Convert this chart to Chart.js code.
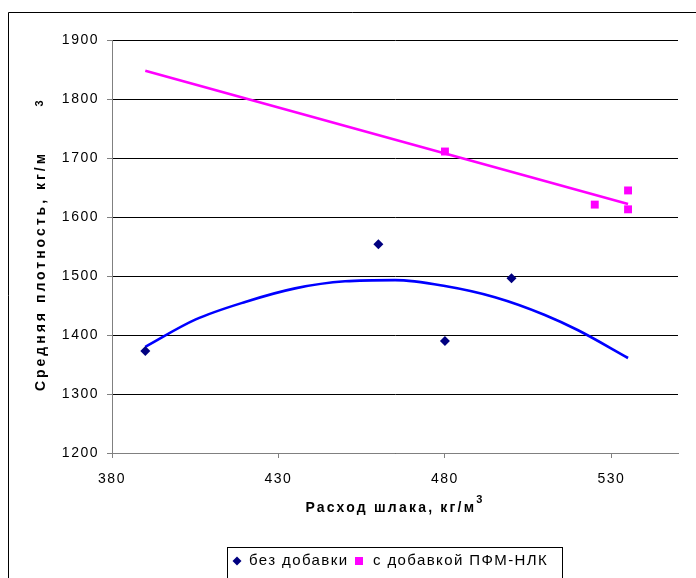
<!DOCTYPE html>
<html>
<head>
<meta charset="utf-8">
<script src="https://cdn.jsdelivr.net/npm/chart.js@4.4.0/dist/chart.umd.min.js"></script>
<style>
  html, body { margin: 0; padding: 0; background: #fff; }
  #wrap { width: 696px; height: 578px; }
</style>
</head>
<body>
<div id="wrap"><canvas id="c" width="696" height="578"></canvas></div>
<script>
// Axis ranges and tick labels
const xTicks = [380, 430, 480, 530];
const xMin = 380, xMax = 550;
const yMin = 1200, yMax = 1900, yStep = 100;

// Series
const seriesNames = ['без добавки', 'с добавкой ПФМ-НЛК'];
const plainX = [390, 460, 480, 500];
const plainY = [1373, 1554, 1390, 1496];
const additiveX = [480, 525, 535, 535];
const additiveY = [1711, 1621, 1645, 1613];

// Trend lines (polynomial for the plain mix, linear for the additive mix)
const plainTrendX = [390, 405, 420, 435, 450, 465, 480, 495, 510, 520, 535];
const plainTrendY = [1380, 1426, 1456, 1479, 1491, 1493, 1483, 1464, 1434, 1408, 1361];
const additiveTrendX = [390, 535];
const additiveTrendY = [1848, 1622];

// Axis titles
const xTitle = 'Расход шлака, кг/м';
const yTitle = 'Средняя плотность, кг/м';
const unitPower = '3';

const NAVY = '#000080', BLUE = '#0000FF', MAGENTA = '#FF00FF';
const FONT = '"Liberation Sans", Arial, sans-serif';

const pts = (xs, ys) => xs.map((x, i) => ({ x: x, y: ys[i] }));

// White page, frame lines on the left and top
const framePlugin = {
  id: 'frame',
  beforeDraw(chart) {
    const ctx = chart.ctx;
    ctx.save();
    ctx.fillStyle = '#fff';
    ctx.fillRect(0, 0, chart.width, chart.height);
    ctx.strokeStyle = '#000';
    ctx.lineWidth = 1;
    ctx.beginPath();
    ctx.moveTo(8.5, chart.height + 2);
    ctx.lineTo(8.5, 12.5);
    ctx.lineTo(chart.width + 2, 12.5);
    ctx.stroke();
    ctx.restore();
    ctx.letterSpacing = '1.5px';
  }
};

// Axis titles with superscript unit power
const titlesPlugin = {
  id: 'titles',
  afterDraw(chart) {
    const ctx = chart.ctx;
    const area = chart.chartArea;
    ctx.save();
    ctx.fillStyle = '#000';
    ctx.textBaseline = 'alphabetic';

    // x title
    ctx.letterSpacing = '2.2px';
    ctx.font = 'bold 14px ' + FONT;
    const wx = ctx.measureText(xTitle).width;
    ctx.font = 'bold 11px ' + FONT;
    const wp = ctx.measureText(unitPower).width;
    const x0 = (area.left + area.right) / 2 - (wx + wp) / 2;
    ctx.font = 'bold 14px ' + FONT;
    ctx.textAlign = 'left';
    ctx.fillText(xTitle, x0, 512);
    ctx.font = 'bold 11px ' + FONT;
    ctx.fillText(unitPower, x0 + wx, 503);

    // y title (rotated)
    ctx.letterSpacing = '3px';
    ctx.translate(45, 271);
    ctx.rotate(-Math.PI / 2);
    ctx.font = 'bold 14px ' + FONT;
    ctx.textAlign = 'center';
    ctx.fillText(yTitle, 0, 0);
    ctx.font = 'bold 11px ' + FONT;
    ctx.fillText(unitPower, 169, -2);
    ctx.restore();
  }
};

// Boxed legend under the plot
const legendPlugin = {
  id: 'boxLegend',
  afterDraw(chart) {
    const ctx = chart.ctx;
    ctx.save();
    ctx.strokeStyle = '#000';
    ctx.lineWidth = 1;
    ctx.strokeRect(227.5, 547.5, 335, 40);
    const cy = 561;
    // diamond marker
    ctx.fillStyle = NAVY;
    ctx.beginPath();
    ctx.moveTo(237, cy - 4.5);
    ctx.lineTo(241.5, cy);
    ctx.lineTo(237, cy + 4.5);
    ctx.lineTo(232.5, cy);
    ctx.closePath();
    ctx.fill();
    // square marker
    ctx.fillStyle = MAGENTA;
    ctx.fillRect(355, cy - 4, 8, 8);

    ctx.fillStyle = '#000';
    ctx.font = '15px ' + FONT;
    ctx.letterSpacing = '1.4px';
    ctx.textAlign = 'left';
    ctx.textBaseline = 'middle';
    ctx.fillText(seriesNames[0], 249, cy);
    ctx.fillText(seriesNames[1], 373, cy);
    ctx.restore();
  }
};

new Chart(document.getElementById('c'), {
  type: 'scatter',
  data: {
    datasets: [
      {
        label: seriesNames[0],
        data: pts(plainX, plainY),
        pointStyle: 'rectRot',
        pointRadius: 5,
        pointHoverRadius: 5,
        backgroundColor: NAVY,
        borderColor: NAVY,
        borderWidth: 0,
        order: 0
      },
      {
        label: seriesNames[1],
        data: pts(additiveX, additiveY),
        pointStyle: 'rect',
        pointRadius: 5.6,
        pointHoverRadius: 5.6,
        backgroundColor: MAGENTA,
        borderColor: MAGENTA,
        borderWidth: 0,
        order: 1
      },
      {
        label: 'trend1',
        data: pts(plainTrendX, plainTrendY),
        showLine: true,
        pointRadius: 0,
        borderColor: BLUE,
        borderWidth: 2.6,
        tension: 0.4,
        cubicInterpolationMode: 'monotone',
        order: 2
      },
      {
        label: 'trend2',
        data: pts(additiveTrendX, additiveTrendY),
        showLine: true,
        pointRadius: 0,
        borderColor: MAGENTA,
        borderWidth: 2.6,
        order: 3
      }
    ]
  },
  options: {
    responsive: false,
    animation: false,
    devicePixelRatio: 1,
    layout: { padding: { left: 0, top: 40, right: 18, bottom: 58 } },
    plugins: {
      legend: { display: false },
      tooltip: { enabled: false }
    },
    scales: {
      x: {
        type: 'linear',
        min: xMin,
        max: xMax,
        afterBuildTicks(scale) { scale.ticks = xTicks.map(v => ({ value: v })); },
        afterFit(scale) { scale.height = 67; },
        grid: { drawOnChartArea: false, drawTicks: true, tickLength: 5, color: '#808080', lineWidth: 1 },
        border: { color: '#808080', width: 1 },
        ticks: { color: '#000', font: { family: FONT, size: 14 }, padding: 13, maxRotation: 0, callback: v => String(v) }
      },
      y: {
        type: 'linear',
        min: yMin,
        max: yMax,
        afterFit(scale) { scale.width = 112; },
        grid: { color: '#000', lineWidth: 1, drawTicks: true, tickLength: 5, tickColor: '#808080' },
        border: { color: '#808080', width: 1 },
        ticks: { stepSize: yStep, color: '#000', font: { family: FONT, size: 14 }, padding: 8, callback: v => String(v) }
      }
    }
  },
  plugins: [framePlugin, titlesPlugin, legendPlugin]
});
</script>
</body>
</html>
